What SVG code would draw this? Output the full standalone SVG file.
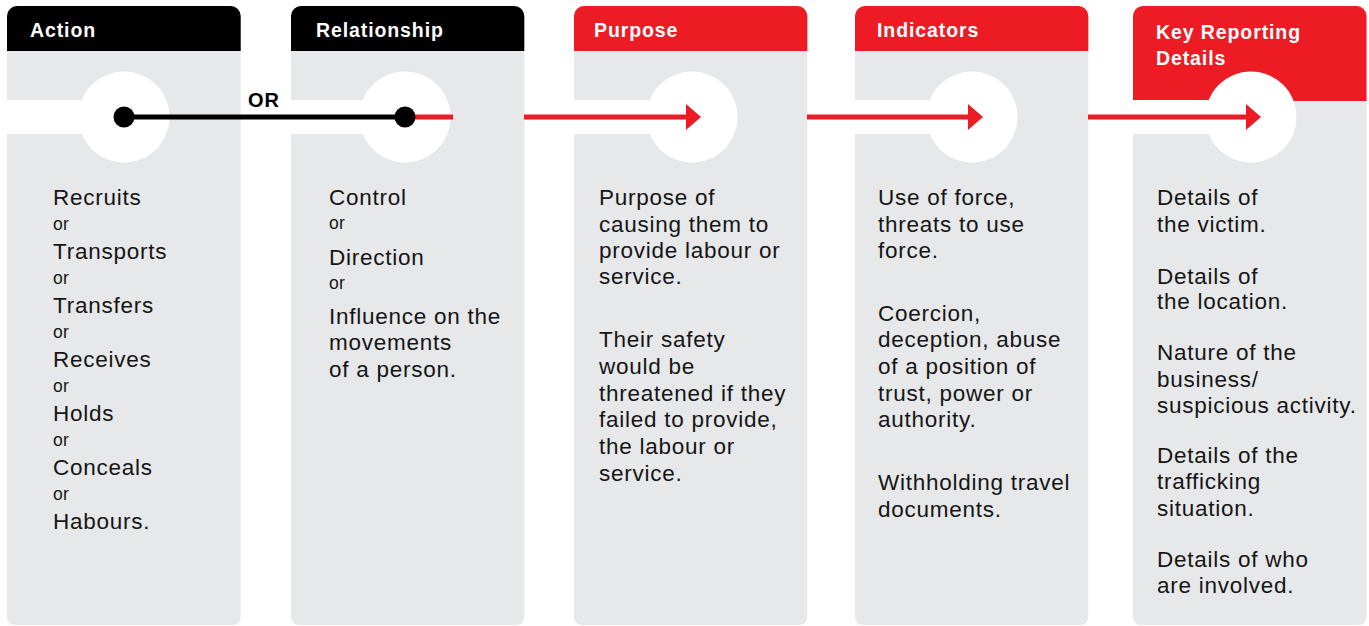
<svg xmlns="http://www.w3.org/2000/svg" width="1369" height="626" viewBox="0 0 1369 626">
<style>
.panel{fill:#E7E8EA}
.hdr-k{fill:#000}
.hdr-r{fill:#ED1C24}
.band{fill:#fff}
.hole{fill:#fff}
.ht{font-family:"Liberation Sans",Arial,sans-serif;font-weight:bold;font-size:19.5px;letter-spacing:0.9px;fill:#fff}
.bt{font-family:"Liberation Sans",Arial,sans-serif;font-size:22.5px;letter-spacing:0.75px;fill:#151515}
.or{font-family:"Liberation Sans",Arial,sans-serif;font-size:17.5px;letter-spacing:0.3px;fill:#151515}
.orb{font-family:"Liberation Sans",Arial,sans-serif;font-weight:bold;font-size:20px;letter-spacing:1px;fill:#000}
.blk{stroke:#000;stroke-width:5;fill:none}
.red{stroke:#ED1C24;stroke-width:5;fill:none}
</style>
<defs>
<marker id="arr" markerUnits="userSpaceOnUse" markerWidth="16" markerHeight="27" refX="2" refY="13" orient="auto" viewBox="0 0 16 27">
<path d="M0,0 L15,13 L0,26 Z" fill="#ED1C24"/>
</marker>
</defs>

<g id="node-action">
<path class="panel" d="M7,16 a10,10 0 0 1 10,-10 h213.7 a10,10 0 0 1 10,10 V617 a8,8 0 0 1 -8,8 H15 a8,8 0 0 1 -8,-8 Z"/>
<path class="hdr-k" d="M7,16 a10,10 0 0 1 10,-10 h213.7 a10,10 0 0 1 10,10 V51 H7 Z"/>
<rect class="band" x="7" y="100" width="117" height="34"/>
<circle class="hole" cx="124" cy="117" r="45.5"/>
<text class="ht" x="30" y="37">Action</text>
<text class="bt" x="53" y="205">Recruits</text>
<text class="or" x="53" y="230">or</text>
<text class="bt" x="53" y="259">Transports</text>
<text class="or" x="53" y="284">or</text>
<text class="bt" x="53" y="313">Transfers</text>
<text class="or" x="53" y="338">or</text>
<text class="bt" x="53" y="367">Receives</text>
<text class="or" x="53" y="392">or</text>
<text class="bt" x="53" y="421">Holds</text>
<text class="or" x="53" y="446">or</text>
<text class="bt" x="53" y="475">Conceals</text>
<text class="or" x="53" y="500">or</text>
<text class="bt" x="53" y="529">Habours.</text>
</g>

<g id="node-relationship">
<path class="panel" d="M291,16 a10,10 0 0 1 10,-10 h213.3 a10,10 0 0 1 10,10 V617 a8,8 0 0 1 -8,8 H299 a8,8 0 0 1 -8,-8 Z"/>
<path class="hdr-k" d="M291,16 a10,10 0 0 1 10,-10 h213.3 a10,10 0 0 1 10,10 V51 H291 Z"/>
<rect class="band" x="291" y="100" width="114" height="34"/>
<circle class="hole" cx="405" cy="117" r="45.5"/>
<text class="ht" x="316" y="37">Relationship</text>
<text class="bt" x="329" y="205">Control</text>
<text class="or" x="329" y="229">or</text>
<text class="bt" x="329" y="265">Direction</text>
<text class="or" x="329" y="289">or</text>
<text class="bt" x="329" y="324">Influence on the</text>
<text class="bt" x="329" y="350">movements</text>
<text class="bt" x="329" y="377">of a person.</text>
</g>

<g id="node-purpose">
<path class="panel" d="M574,16 a10,10 0 0 1 10,-10 h213.3 a10,10 0 0 1 10,10 V617 a8,8 0 0 1 -8,8 H582 a8,8 0 0 1 -8,-8 Z"/>
<path class="hdr-r" d="M574,16 a10,10 0 0 1 10,-10 h213.3 a10,10 0 0 1 10,10 V51 H574 Z"/>
<rect class="band" x="574" y="100" width="118" height="34"/>
<circle class="hole" cx="692" cy="117" r="45.5"/>
<text class="ht" x="594" y="37">Purpose</text>
<text class="bt" x="599" y="205">Purpose of</text>
<text class="bt" x="599" y="232">causing them to</text>
<text class="bt" x="599" y="258">provide labour or</text>
<text class="bt" x="599" y="284">service.</text>
<text class="bt" x="599" y="347">Their safety</text>
<text class="bt" x="599" y="374">would be</text>
<text class="bt" x="599" y="401">threatened if they</text>
<text class="bt" x="599" y="427">failed to provide,</text>
<text class="bt" x="599" y="454">the labour or</text>
<text class="bt" x="599" y="481">service.</text>
</g>

<g id="node-indicators">
<path class="panel" d="M855,16 a10,10 0 0 1 10,-10 h213.3 a10,10 0 0 1 10,10 V617 a8,8 0 0 1 -8,8 H863 a8,8 0 0 1 -8,-8 Z"/>
<path class="hdr-r" d="M855,16 a10,10 0 0 1 10,-10 h213.3 a10,10 0 0 1 10,10 V51 H855 Z"/>
<rect class="band" x="855" y="100" width="117" height="34"/>
<circle class="hole" cx="972" cy="117" r="45.5"/>
<text class="ht" x="877" y="37">Indicators</text>
<text class="bt" x="878" y="205">Use of force,</text>
<text class="bt" x="878" y="232">threats to use</text>
<text class="bt" x="878" y="258">force.</text>
<text class="bt" x="878" y="321">Coercion,</text>
<text class="bt" x="878" y="347">deception, abuse</text>
<text class="bt" x="878" y="374">of a position of</text>
<text class="bt" x="878" y="401">trust, power or</text>
<text class="bt" x="878" y="427">authority.</text>
<text class="bt" x="878" y="490">Withholding travel</text>
<text class="bt" x="878" y="517">documents.</text>
</g>

<g id="node-key-reporting">
<path class="panel" d="M1133,16 a10,10 0 0 1 10,-10 h213.5 a10,10 0 0 1 10,10 V617 a8,8 0 0 1 -8,8 H1141 a8,8 0 0 1 -8,-8 Z"/>
<path class="hdr-r" d="M1133,16 a10,10 0 0 1 10,-10 h213.5 a10,10 0 0 1 10,10 V101 H1133 Z"/>
<rect class="band" x="1133" y="100" width="118" height="34"/>
<circle class="hole" cx="1251" cy="117" r="45.5"/>
<text class="ht" x="1156" y="39">Key Reporting</text>
<text class="ht" x="1156" y="65">Details</text>
<text class="bt" x="1157" y="205">Details of</text>
<text class="bt" x="1157" y="232">the victim.</text>
<text class="bt" x="1157" y="284">Details of</text>
<text class="bt" x="1157" y="309">the location.</text>
<text class="bt" x="1157" y="360">Nature of the</text>
<text class="bt" x="1157" y="387">business/</text>
<text class="bt" x="1157" y="413">suspicious activity.</text>
<text class="bt" x="1157" y="463">Details of the</text>
<text class="bt" x="1157" y="489">trafficking</text>
<text class="bt" x="1157" y="516">situation.</text>
<text class="bt" x="1157" y="567">Details of who</text>
<text class="bt" x="1157" y="593">are involved.</text>
</g>

<g id="connectors">
<line class="blk" x1="124" y1="117" x2="405" y2="117"/>
<circle cx="124" cy="117" r="10.5" fill="#000"/>
<line class="red" x1="415" y1="117" x2="453" y2="117"/>
<circle cx="405" cy="117" r="10.5" fill="#000"/>
<text class="orb" x="248" y="107">OR</text>
<line class="red" x1="524" y1="117" x2="688" y2="117" marker-end="url(#arr)"/>
<line class="red" x1="807" y1="117" x2="970" y2="117" marker-end="url(#arr)"/>
<line class="red" x1="1088" y1="117" x2="1248" y2="117" marker-end="url(#arr)"/>
</g>
</svg>
